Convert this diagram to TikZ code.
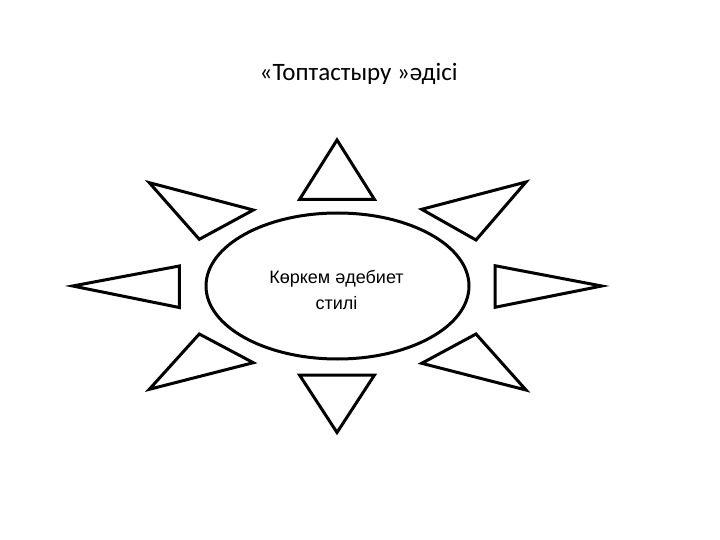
\documentclass[tikz,border=0pt]{standalone}
\usepackage{fontspec}
\setmainfont{Liberation Sans}
\newfontfamily\titlefont{Carlito}
\usetikzlibrary{shapes.geometric}
\begin{document}
\begin{tikzpicture}[x=1pt,y=-1pt,
  ray/.style={draw=black,line width=3pt,line join=miter},
  oval/.style={draw=black,line width=3pt,ellipse,minimum width=263pt,minimum height=146pt,inner sep=0pt},
  txt/.style={font=\fontsize{18}{26.7}\selectfont,align=center,inner sep=0pt},
  ttl/.style={font=\titlefont\fontsize{25}{30}\selectfont,inner sep=0pt,anchor=base}]
\useasboundingbox (0,0) rectangle (720,540);
\node[ttl] (title) at (358.7,80.5) {«Топтастыру »әдісі};
\node[oval] (ell) at (337.5,286) {};
\node[txt] (label) at (336.5,290) {Көркем әдебиет\\стилі};
% rays
\draw[ray] (337,140) -- (374.5,199.5) -- (299.5,199.5) -- cycle;
\draw[ray] (337,432.5) -- (374.5,375) -- (299.5,375) -- cycle;
\draw[ray] (72.7,286) -- (179.3,266) -- (179.3,307.5) -- cycle;
\draw[ray] (601.7,286) -- (495,265.7) -- (495,307.3) -- cycle;
\draw[ray] (149.3,182.7) -- (253.3,210) -- (199.3,239.3) -- cycle;
\draw[ray] (526,182) -- (421.7,209.3) -- (476,240) -- cycle;
\draw[ray] (149.3,389.3) -- (253.3,362.7) -- (199.3,334) -- cycle;
\draw[ray] (526,390) -- (421.7,363.3) -- (476,334) -- cycle;
\end{tikzpicture}
\end{document}
